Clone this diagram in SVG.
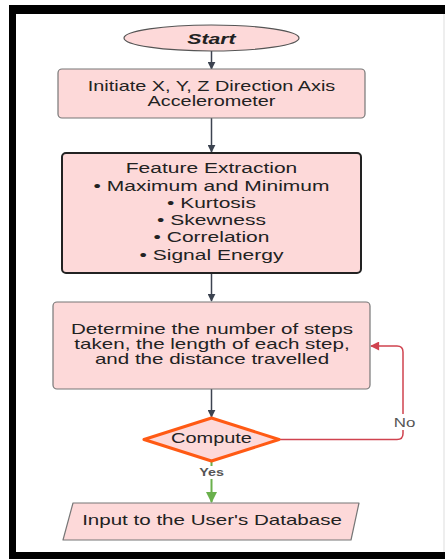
<svg xmlns="http://www.w3.org/2000/svg" width="445" height="559" viewBox="0 0 445 559">
<defs>
<style>
.t{font-family:"Liberation Sans",Arial,sans-serif;font-size:15px;fill:#222;text-anchor:middle}
.nd{fill:#fdd9d9;stroke:#777;stroke-width:1.2}
.ln{fill:none;stroke:#3c4350;stroke-width:1.5}
</style>
<marker id="ah" viewBox="0 0 10 10" refX="9" refY="5" markerWidth="8" markerHeight="8" markerUnits="userSpaceOnUse" orient="auto"><path d="M0,0 L10,5 L0,10 Z" fill="#3c4350"/></marker>
<marker id="ahr" viewBox="0 0 10 10" refX="9" refY="5" markerWidth="14" markerHeight="9" markerUnits="userSpaceOnUse" orient="auto"><path d="M0,0 L10,5 L0,10 Z" fill="#d0434f"/></marker>
<marker id="ahg" viewBox="0 0 10 10" refX="9" refY="5" markerWidth="13" markerHeight="11" markerUnits="userSpaceOnUse" orient="auto"><path d="M0,0 L10,5 L0,10 Z" fill="#6ab04c"/></marker>
</defs>
<rect width="445" height="559" fill="#fff"/>
<g id="frame">
<rect x="9" y="5" width="436" height="9" fill="#000"/>
<rect x="9" y="5" width="7" height="554" fill="#000"/>
<rect x="9" y="552" width="436" height="7" fill="#000"/>
<line x1="444" y1="14" x2="444" y2="552" stroke="#ddd" stroke-width="1"/>
</g>
<g id="connectors">
<line class="ln" x1="211.5" y1="51" x2="211.5" y2="69" marker-end="url(#ah)"/>
<line class="ln" x1="211.5" y1="118" x2="211.5" y2="152" marker-end="url(#ah)"/>
<line class="ln" x1="211.5" y1="273" x2="211.5" y2="301" marker-end="url(#ah)"/>
<line class="ln" x1="211.5" y1="389" x2="211.5" y2="417" marker-end="url(#ah)"/>
<path d="M279,439.5 H397 Q403,439.5 403,433.5 V352 Q403,346 397,346 H371" fill="none" stroke="#d0434f" stroke-width="1.5" marker-end="url(#ahr)"/>
<line x1="211.5" y1="461" x2="211.5" y2="502" stroke="#6ab04c" stroke-width="2" marker-end="url(#ahg)"/>
<rect x="392" y="414" width="25" height="16" fill="#fff"/>
<text class="t" transform="translate(404.5,426.5) scale(1.3,1)" style="font-size:13px;fill:#555">No</text>
<rect x="196" y="466" width="31" height="13" fill="#fff"/>
<text class="t" transform="translate(211.5,475.5) scale(1.3,1)" style="font-size:11px;font-weight:bold;fill:#555">Yes</text>
</g>
<g id="start">
<ellipse class="nd" cx="211.5" cy="38" rx="87.5" ry="13" style="stroke:#555"/>
<text class="t" transform="translate(211.5,43.5) scale(1.37,1)" style="font-weight:bold;font-style:italic;font-size:15.5px">Start</text>
</g>
<g id="init">
<rect class="nd" x="58" y="69" width="307" height="49" rx="4"/>
<text class="t" transform="translate(211.5,90.5) scale(1.37,1)" style="font-size:14.5px">Initiate X, Y, Z Direction Axis</text>
<text class="t" transform="translate(211.5,105.5) scale(1.37,1)" style="font-size:14.5px">Accelerometer</text>
</g>
<g id="features">
<rect x="62" y="153" width="299" height="120" rx="4" fill="#fdd9d9" stroke="#222" stroke-width="2"/>
<text class="t" transform="translate(211.5,173) scale(1.4,1)">Feature Extraction</text>
<text class="t" transform="translate(211.5,191) scale(1.4,1)">• Maximum and Minimum</text>
<text class="t" transform="translate(211.5,207.5) scale(1.4,1)">• Kurtosis</text>
<text class="t" transform="translate(211.5,224.5) scale(1.4,1)">• Skewness</text>
<text class="t" transform="translate(211.5,242) scale(1.4,1)">• Correlation</text>
<text class="t" transform="translate(211.5,259.5) scale(1.4,1)">• Signal Energy</text>
</g>
<g id="determine">
<rect class="nd" x="53" y="302" width="317" height="87" rx="4"/>
<text class="t" transform="translate(212,334) scale(1.37,1)">Determine the number of steps</text>
<text class="t" transform="translate(212,349) scale(1.37,1)">taken, the length of each step,</text>
<text class="t" transform="translate(212,364) scale(1.37,1)">and the distance travelled</text>
</g>
<g id="compute">
<polygon points="211.5,418 279,439.5 211.5,461 144,439.5" fill="#fdd9d9" stroke="#ff5a14" stroke-width="3" stroke-linejoin="round"/>
<text class="t" transform="translate(211.5,443) scale(1.33,1)">Compute</text>
</g>
<g id="database">
<polygon class="nd" points="73,503 359,503 351,540 63,540" stroke-linejoin="round"/>
<text class="t" transform="translate(212,524.5) scale(1.37,1)">Input to the User's Database</text>
</g>
</svg>
